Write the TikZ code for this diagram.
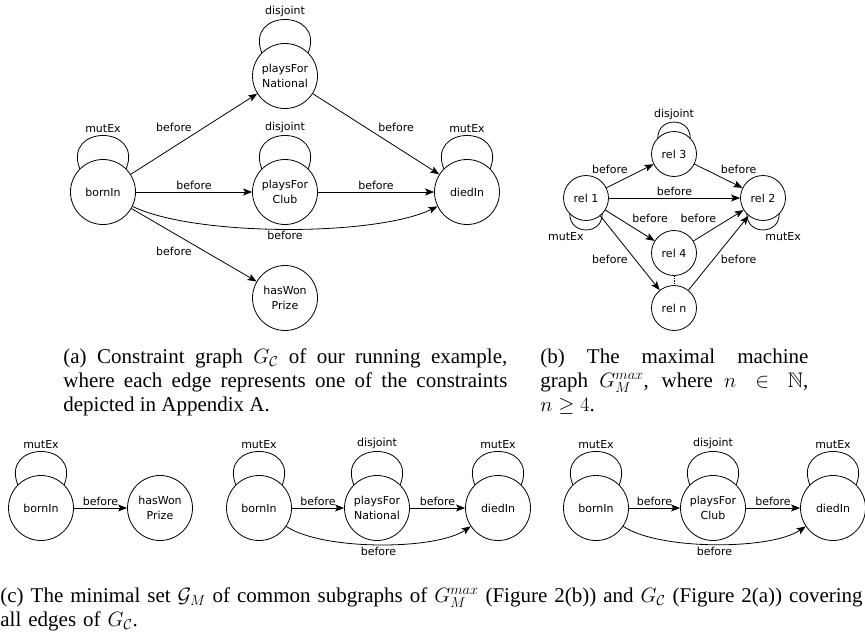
\documentclass[tikz,border=0pt]{standalone}
\usepackage{fontspec}
\usepackage{amssymb}
\setmainfont{Liberation Serif}
\newfontfamily\graphfont{DejaVu Sans}
\usetikzlibrary{arrows.meta}

\tikzset{
  rel/.style={draw,circle,minimum size=65pt,inner sep=0pt,align=center,
    font=\graphfont\fontsize{11}{15}\selectfont},
  smallrel/.style={rel,minimum size=45pt},
  lbl/.style={font=\graphfont\fontsize{11}{13}\selectfont,inner sep=2pt},
  arr/.style={-{Stealth[length=9pt,width=7pt,inset=2pt]}},
  bigloop/.style={out=111,in=69,distance=47.5pt},
  uploop/.style={out=90,in=90,distance=21pt},
  downloop/.style={out=-90,in=-90,distance=21pt},
  capt/.style={font=\fontsize{21}{24}\selectfont,inner sep=0pt,anchor=base west,align=justify}
}

\begin{document}
\begin{tikzpicture}[x=1pt,y=1pt,line width=0.8pt]
\useasboundingbox (0,0) rectangle (865,-637);

% (a) constraint graph
\node[rel] (bornIn) at (103,-192) {bornIn};
\node[rel] (pfNat) at (285,-76) {playsFor\\National};
\node[rel] (pfClub) at (285,-192) {playsFor\\Club};
\node[rel] (diedIn) at (467,-192) {diedIn};
\node[rel] (hasWon) at (285,-298) {hasWon\\Prize};

\draw (bornIn.135) to[bigloop] node[lbl,above] {mutEx} (bornIn.45);
\draw (pfNat.135) to[bigloop] node[lbl,above] {disjoint} (pfNat.45);
\draw (pfClub.135) to[bigloop] node[lbl,above] {disjoint} (pfClub.45);
\draw (diedIn.135) to[bigloop] node[lbl,above] {mutEx} (diedIn.45);

\draw[arr] (bornIn) -- node[lbl,above left] {before} (pfNat);
\draw[arr] (bornIn) -- node[lbl,above] {before} (pfClub);
\draw[arr] (pfNat) -- node[lbl,above right] {before} (diedIn);
\draw[arr] (pfClub) -- node[lbl,above] {before} (diedIn);
\draw[arr] (bornIn) to[bend right=26,looseness=0.58] node[lbl,below] {before} (diedIn);
\draw[arr] (bornIn) -- node[lbl,below left] {before} (hasWon);

% (b) maximal machine graph
\node[smallrel] (rel1) at (586,-198) {rel 1};
\node[smallrel] (rel3) at (674,-154) {rel 3};
\node[smallrel] (rel2) at (763,-198) {rel 2};
\node[smallrel] (rel4) at (674,-253) {rel 4};
\node[smallrel] (reln) at (674,-308) {rel n};

\draw (rel3.135) to[uploop] node[lbl,above] {disjoint} (rel3.45);
\draw (rel1.-135) to[downloop] node[lbl,below left] {mutEx} (rel1.-45);
\draw (rel2.-135) to[downloop] node[lbl,below right] {mutEx} (rel2.-45);

\draw[arr] (rel1) -- node[lbl,above left] {before} (rel3);
\draw[arr] (rel1) -- node[lbl,above] {before} (rel2);
\draw[arr] (rel3) -- node[lbl,above right] {before} (rel2);
\draw[arr] (rel1) -- node[lbl,above right] {before} (rel4);
\draw[arr] (rel4) -- node[lbl,above left] {before} (rel2);
\draw[arr] (rel1) -- node[lbl,below left] {before} (reln);
\draw[arr] (reln) -- node[lbl,below right] {before} (rel2);
\draw[densely dotted] (rel4) -- (reln);

% captions (a) and (b)
\node[capt,text width=444pt] (capA) at (63,-363)
  {(a) Constraint graph $G_{\mathcal{C}}$ of our running example,\linebreak
   where each edge represents one of the constraints\linebreak
   depicted in Appendix A.};
\node[capt,text width=268pt] (capB) at (540,-363)
  {(b) The maximal machine\linebreak
   graph $G_M^{max}$, where $n \in \mathbb{N}$,\linebreak
   $n \geq 4$.};

% (c) common subgraphs
\node[rel] (bornInA) at (41,-508) {bornIn};
\node[rel] (hasWonA) at (160,-508) {hasWon\\Prize};
\draw (bornInA.135) to[bigloop] node[lbl,above] {mutEx} (bornInA.45);
\draw[arr] (bornInA) -- node[lbl,above] {before} (hasWonA);

\node[rel] (bornInB) at (259,-508) {bornIn};
\node[rel] (pfNatB) at (377,-508) {playsFor\\National};
\node[rel] (diedInB) at (498,-508) {diedIn};
\draw (bornInB.135) to[bigloop] node[lbl,above] {mutEx} (bornInB.45);
\draw (pfNatB.135) to[bigloop] node[lbl,above] {disjoint} (pfNatB.45);
\draw (diedInB.135) to[bigloop] node[lbl,above] {mutEx} (diedInB.45);
\draw[arr] (bornInB) -- node[lbl,above] {before} (pfNatB);
\draw[arr] (pfNatB) -- node[lbl,above] {before} (diedInB);
\draw[arr] (bornInB) to[bend right=34,looseness=0.6] node[lbl,below] {before} (diedInB);

\node[rel] (bornInC) at (596,-508) {bornIn};
\node[rel] (pfClubC) at (713,-508) {playsFor\\Club};
\node[rel] (diedInC) at (833,-508) {diedIn};
\draw (bornInC.135) to[bigloop] node[lbl,above] {mutEx} (bornInC.45);
\draw (pfClubC.135) to[bigloop] node[lbl,above] {disjoint} (pfClubC.45);
\draw (diedInC.135) to[bigloop] node[lbl,above] {mutEx} (diedInC.45);
\draw[arr] (bornInC) -- node[lbl,above] {before} (pfClubC);
\draw[arr] (pfClubC) -- node[lbl,above] {before} (diedInC);
\draw[arr] (bornInC) to[bend right=34,looseness=0.6] node[lbl,below] {before} (diedInC);

\node[capt,text width=1100pt,align=left] (capC) at (0,-602)
  {(c) The minimal set $\mathcal{G}_M$ of common subgraphs of $G_M^{max}$ (Figure 2(b)) and $G_{\mathcal{C}}$ (Figure 2(a)) covering\\
   all edges of $G_{\mathcal{C}}$.};
\end{tikzpicture}
\end{document}
